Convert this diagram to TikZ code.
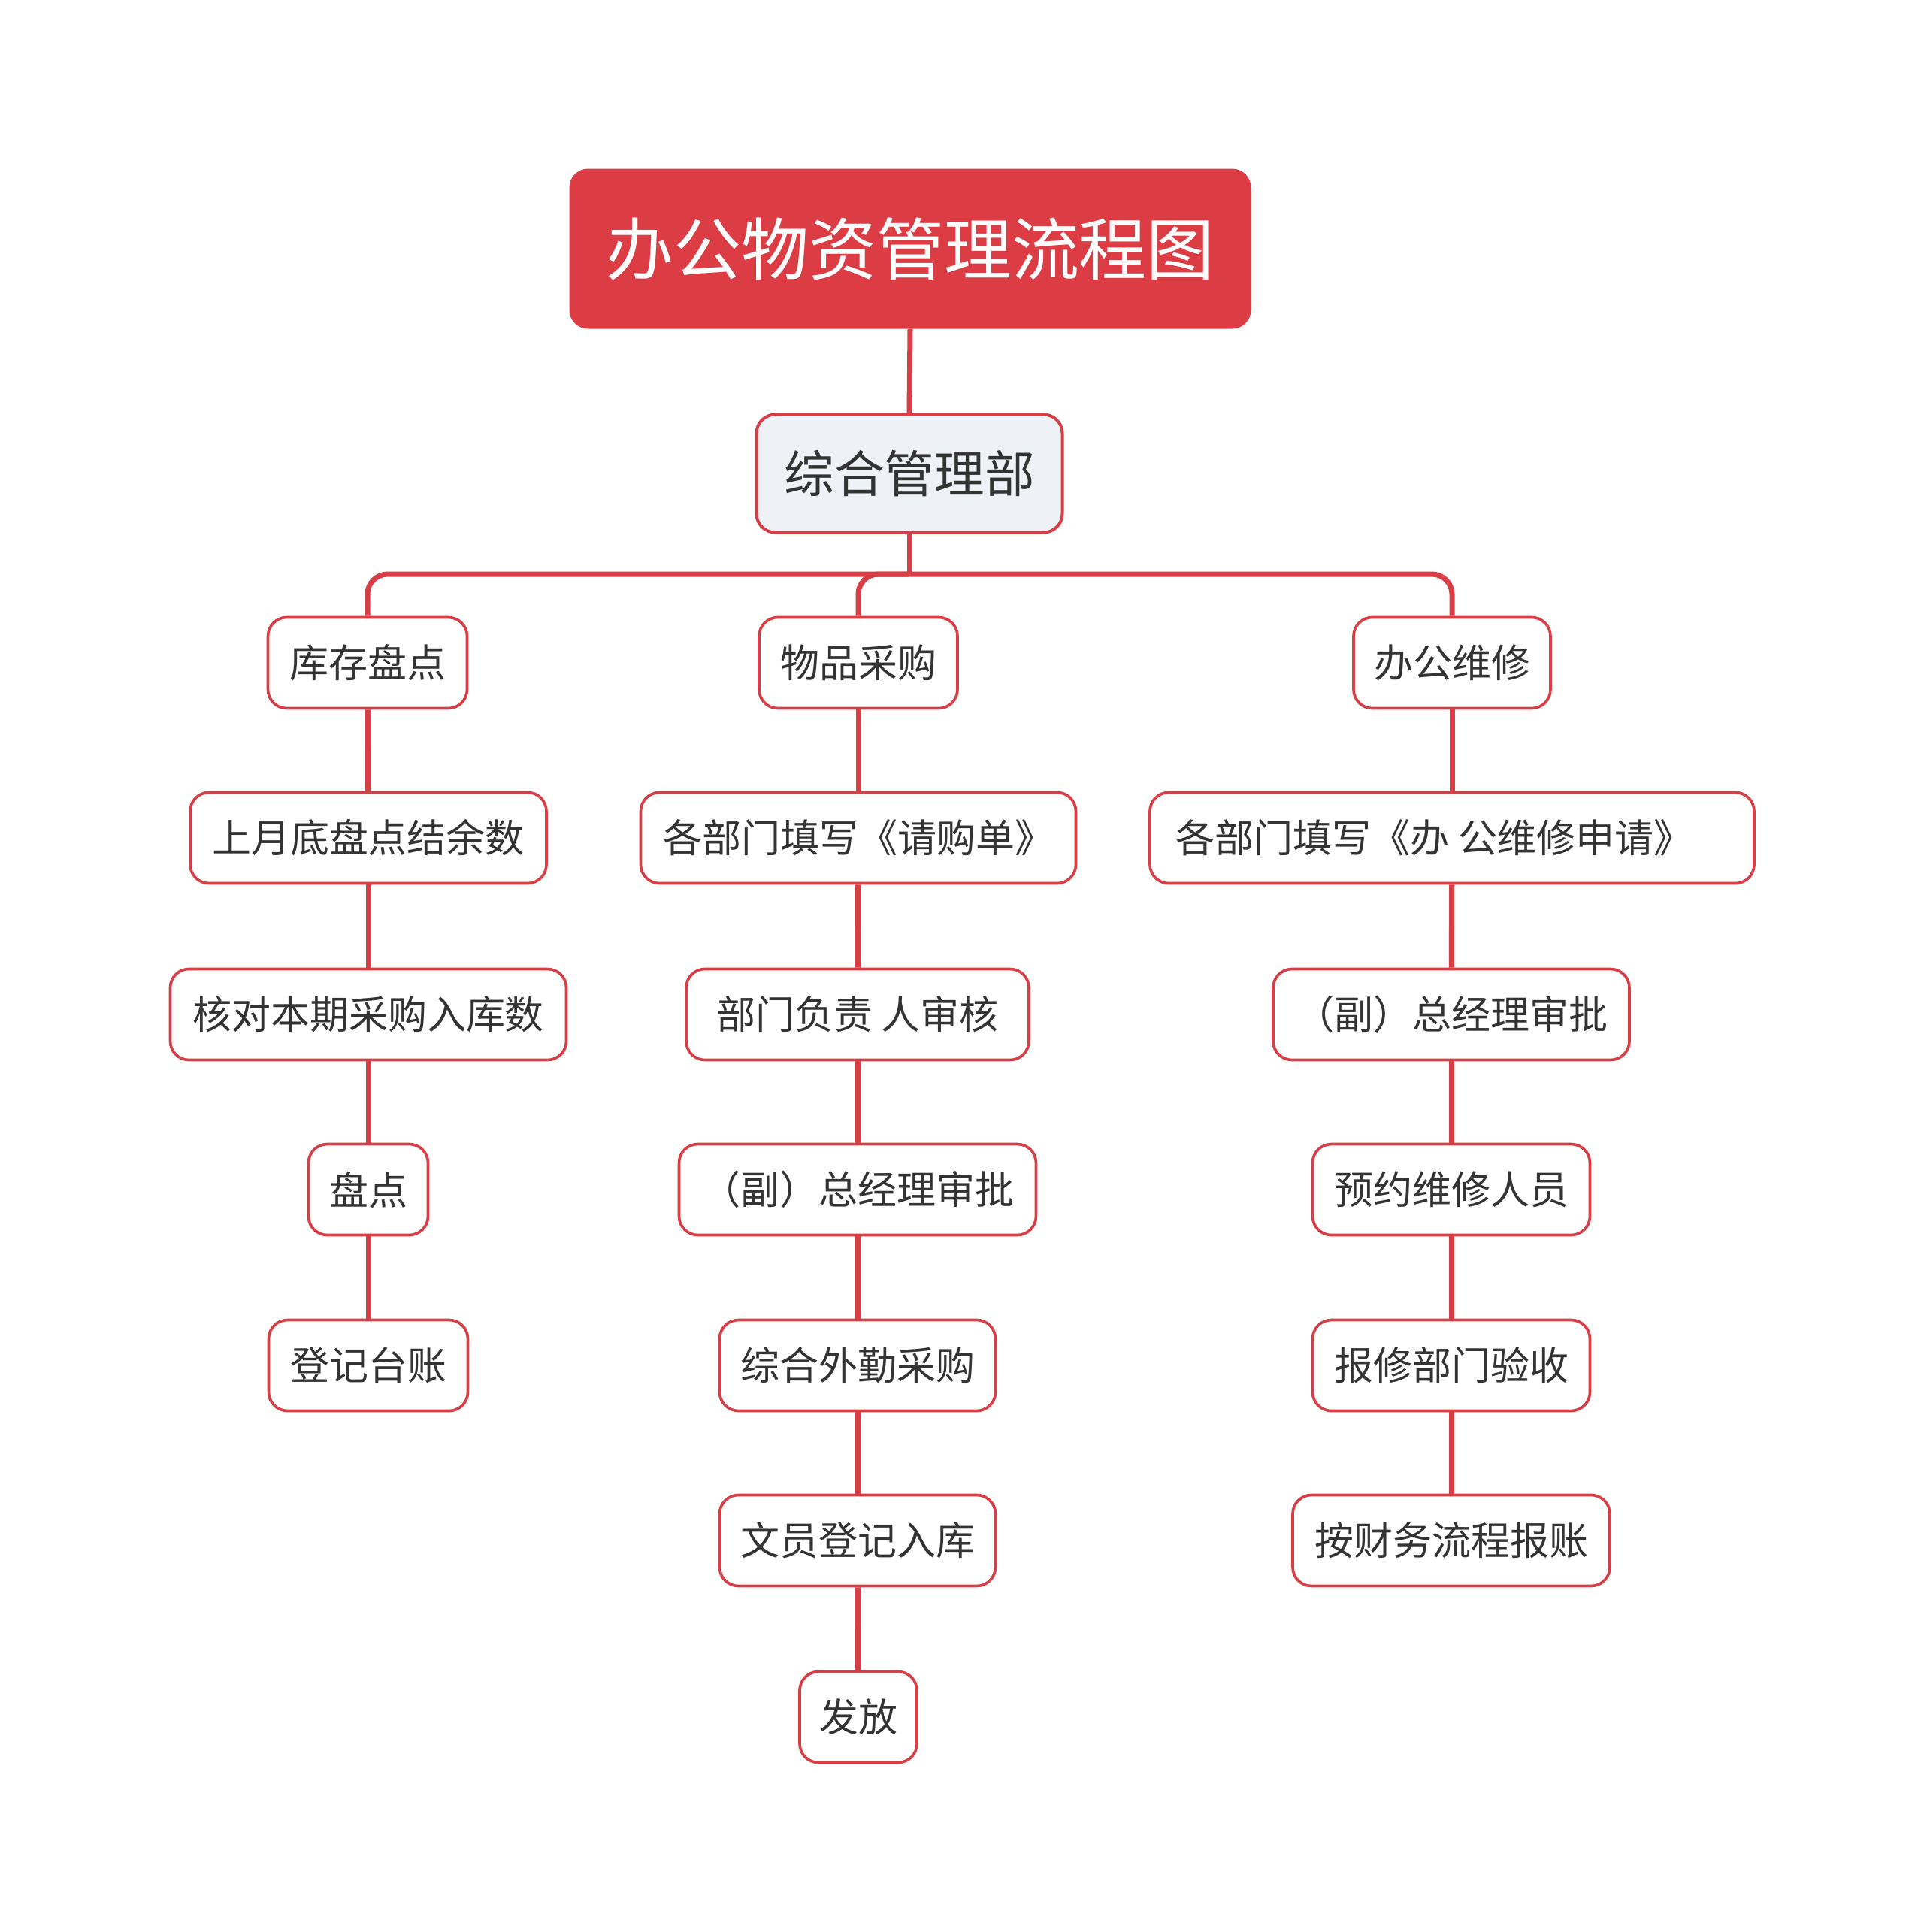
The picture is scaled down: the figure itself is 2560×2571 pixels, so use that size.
\documentclass[tikz,border=0pt]{standalone}
\usepackage{fontspec}
\setmainfont{Noto Sans CJK SC}
\definecolor{lred}{HTML}{D73E46}
\definecolor{tfill}{HTML}{DC3C44}
\definecolor{dfill}{HTML}{EEF1F5}
\definecolor{txt}{HTML}{333333}
\tikzset{
  box/.style={draw=lred, line width=1.1pt, rounded corners=7.5pt, fill=white,
    minimum height=36.3pt, minimum width=#1*0.3pt, inner sep=0pt,
    text=txt, font=\fontsize{15.6pt}{18pt}\selectfont},
  conn/.style={draw=lred, line width=2.1pt, rounded corners=8pt},
}
\begin{document}
\begin{tikzpicture}[x=0.3pt,y=-0.3pt]
\useasboundingbox (0,0) rectangle (2560,2571);
% title and department
\node[fill=tfill, rounded corners=7.5pt, minimum width=272.1pt, minimum height=63.9pt,
  inner sep=0pt, text=white, font=\fontsize{27pt}{30pt}\selectfont] (title) at (1211,331) {办公物资管理流程图};
\node[draw=lred, fill=dfill, line width=1.2pt, rounded corners=7.5pt, minimum width=122.1pt,
  minimum height=47.1pt, inner sep=0pt, text=txt, font=\fontsize{20pt}{24pt}\selectfont] (dept) at (1210,630) {综合管理部};
\coordinate (h) at (1210,764);
% first level
\node[box=265] (a1) at (489,882) {库存盘点};
\node[box=264] (b1) at (1142,882) {物品采购};
\node[box=262] (c1) at (1932,882) {办公维修};
% left column
\node[box=474] (a2) at (490,1115) {上月底盘点结余数};
\node[box=527] (a3) at (490,1350) {核对本期采购入库数};
\node[box=159] (a4) at (490,1583) {盘点};
\node[box=265] (a5) at (490,1817) {登记台账};
% middle column
\node[box=579] (b2) at (1142,1115) {各部门填写《请购单》};
\node[box=456] (b3) at (1141,1350) {部门负责 人审核};
\node[box=475] (b4) at (1141,1583) {（副）总经理审批};
\node[box=367] (b5) at (1141,1817) {综合外勤采购};
\node[box=367] (b6) at (1141,2050) {文员登记入库};
\node[box=156] (b7) at (1142,2285) {发放};
% right column
\node[box=804] (c2) at (1932,1115) {各部门填写《办 公维修申请》\rule{14pt}{0pt}};
\node[box=474] (c3) at (1931,1350) {（副）总经理审批};
\node[box=369] (c4) at (1931,1583) {预约维修人员};
\node[box=369] (c5) at (1931,1817) {报修部门验收};
\node[box=422] (c6) at (1931,2050) {按财务流程报账};
% connectors
\draw[conn] (title.south) -- (dept.north);
\draw[conn] (dept.south) -- (h);
\draw[conn] (h) -- (h -| a1.north) -- (a1.north);
\draw[conn] (h) -- (h -| b1.north) -- (b1.north);
\draw[conn] (h) -- (h -| c1.north) -- (c1.north);
\draw[conn] (a1) -- (a2);
\draw[conn] (a2) -- (a3);
\draw[conn] (a3) -- (a4);
\draw[conn] (a4) -- (a5);
\draw[conn] (b1) -- (b2);
\draw[conn] (b2) -- (b3);
\draw[conn] (b3) -- (b4);
\draw[conn] (b4) -- (b5);
\draw[conn] (b5) -- (b6);
\draw[conn] (b6) -- (b7);
\draw[conn] (c1) -- (c2);
\draw[conn] (c2) -- (c3);
\draw[conn] (c3) -- (c4);
\draw[conn] (c4) -- (c5);
\draw[conn] (c5) -- (c6);
\end{tikzpicture}
\end{document}
